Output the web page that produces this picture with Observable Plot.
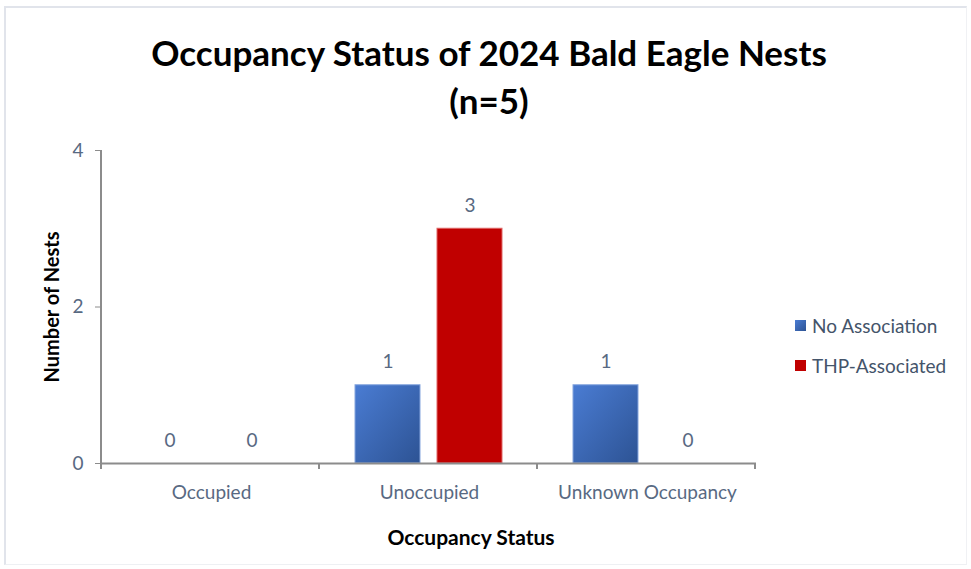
<!DOCTYPE html>
<html>
<head>
<meta charset="utf-8">
<script src="https://cdn.jsdelivr.net/npm/d3@7"></script>
<script src="https://cdn.jsdelivr.net/npm/@observablehq/plot@0.6"></script>
<style>
  body { margin: 0; background: #fff; }
  #wrap { position: relative; width: 971px; height: 569px; overflow: hidden; font-family: Lato, "Open Sans", sans-serif; }
  #border { position: absolute; left: 4px; top: 6px; width: 963px; height: 559px; border-left: 2px solid #E1E4EB; border-top: 2px solid #E1E4EB; border-right: 1px solid #F0F1F4; border-bottom: 1px solid #EEF0F3; box-sizing: border-box; pointer-events: none; }
  #title { height: 125px; box-sizing: border-box; padding-top: 28px; padding-left: 7px; text-align: center; font-weight: bold; font-size: 35px; line-height: 48px; color: #000; }
  #xtitle { position: absolute; left: 0; top: 524px; width: 942px; text-align: center; font-weight: bold; font-size: 21px; color: #000; }
  #legend { position: absolute; left: 795px; top: 311px; font-size: 19px; color: #44546A; }
  .li { display: flex; align-items: center; height: 28px; margin-bottom: 12px; }
  .sw { width: 11px; height: 11px; margin-right: 6px; }
  g[aria-label="y-axis label"] text { font-weight: bold; fill: #000; font-size: 20px; }
</style>
</head>
<body>
<div id="wrap">
  <div id="title">Occupancy Status of 2024 Bald Eagle Nests<br>(n=5)</div>
  <div id="chart"></div>
  <div id="xtitle">Occupancy Status</div>
  <div id="legend"></div>
  <div id="border"></div>
</div>
<script>
const categories = ["Occupied", "Unoccupied", "Unknown Occupancy"];
const seriesNames = ["No Association", "THP-Associated"];
const noAssociation = [0, 1, 1];
const thpAssociated = [0, 3, 0];
const yTicks = [0, 2, 4];
const yLabel = "Number of Nests";
const seriesColors = ["#3F6EC0", "#C00000"];

const data = categories.flatMap((c, i) => [
  {category: c, series: seriesNames[0], value: noAssociation[i]},
  {category: c, series: seriesNames[1], value: thpAssociated[i]}
]);

const labelColor = "#586982";
const axisColor = "#8C8C8C";

const chart = Plot.plot({
  width: 971,
  height: 390,
  marginLeft: 101,
  marginRight: 215,
  marginTop: 25,
  marginBottom: 52,
  style: {fontFamily: "Lato, 'Open Sans', sans-serif", fontSize: "19px", color: labelColor, background: "transparent"},
  fx: {domain: categories, padding: 0, label: null},
  x: {domain: seriesNames, paddingInner: 0.205, paddingOuter: 0.416, axis: null},
  y: {domain: [0, 4], label: null},
  marks: [
    Plot.barY(data.filter(d => d.series === seriesNames[0]), {fx: "category", x: "series", y: "value", fill: "url(#blueGrad)", stroke: "#86A6DE", strokeWidth: 1}),
    Plot.barY(data.filter(d => d.series === seriesNames[1]), {fx: "category", x: "series", y: "value", fill: seriesColors[1], stroke: "#E06666", strokeWidth: 1}),
    Plot.ruleY([0], {stroke: axisColor, strokeWidth: 2}),
    Plot.text(data, {fx: "category", x: "series", y: "value", text: d => String(d.value), dy: -23, fill: labelColor, fontSize: 19}),
    Plot.axisY({ticks: yTicks, tickSize: 7, tickPadding: 12, stroke: axisColor, label: yLabel, labelAnchor: "center", labelOffset: 58, tickFormat: d3.format("d")}),
    Plot.axisFx({anchor: "bottom", tickSize: 0, tickPadding: 22, label: null})
  ]
});

document.getElementById("chart").appendChild(chart);

const svg = d3.select(chart);
// remove the automatic arrow from the y label
svg.selectAll('g[aria-label="y-axis label"] text').text(yLabel);

// gradient for Excel-like blue bars
const defs = svg.insert("defs", ":first-child");
const g = defs.append("linearGradient").attr("id", "blueGrad").attr("x1", "0").attr("y1", "0").attr("x2", "1").attr("y2", "1");
g.append("stop").attr("offset", "0%").attr("stop-color", "#4A7CD3");
g.append("stop").attr("offset", "100%").attr("stop-color", "#2D5394");

// Excel-style axis line and category boundary ticks
const fx = chart.scale("fx");
const y = chart.scale("y");
const y0 = y.apply(0), y4 = y.apply(4);
const x0 = fx.range[0];
const ov = svg.append("g").attr("stroke", axisColor).attr("stroke-width", 2);
ov.append("line").attr("x1", x0).attr("x2", x0).attr("y1", y4).attr("y2", y0 + 6);
categories.forEach((c, i) => {
  const xb = x0 + (i + 1) * fx.step;
  ov.append("line").attr("x1", xb).attr("x2", xb).attr("y1", y0).attr("y2", y0 + 6);
});

// legend
const legend = document.getElementById("legend");
seriesNames.forEach((s, i) => {
  const row = document.createElement("div");
  row.className = "li";
  const sw = document.createElement("div");
  sw.className = "sw";
  sw.style.background = i === 0 ? "linear-gradient(135deg, #4A7CD3, #2D5394)" : seriesColors[1];
  const t = document.createElement("span");
  t.textContent = s;
  row.appendChild(sw);
  row.appendChild(t);
  legend.appendChild(row);
});
</script>
</body>
</html>
